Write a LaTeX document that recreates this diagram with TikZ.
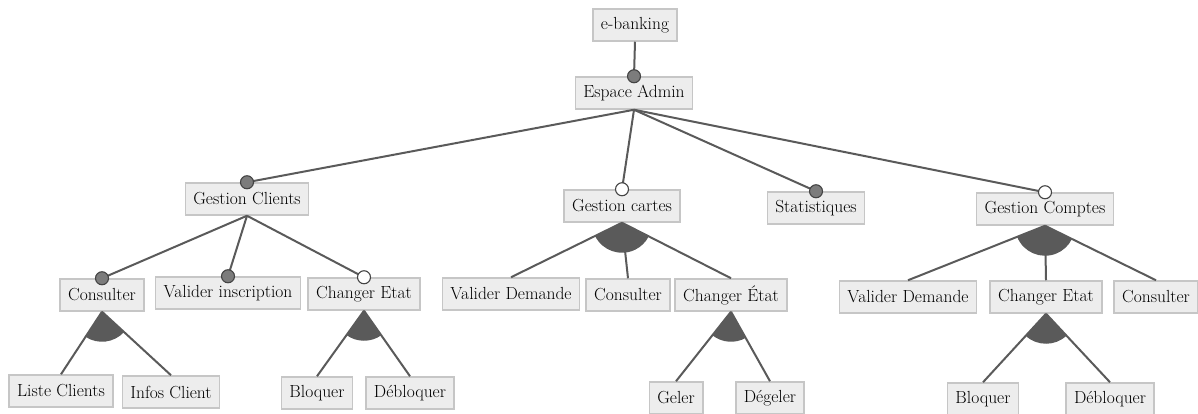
\documentclass[tikz,border=0pt]{standalone}
\usepackage{fontspec}
\usetikzlibrary{calc}
\definecolor{boxfill}{HTML}{EDEDED}
\definecolor{boxline}{HTML}{C6C6C6}
\definecolor{edgecol}{HTML}{5A5A5A}
\definecolor{dotfill}{HTML}{7C7C7C}
\definecolor{dotline}{HTML}{444444}
\tikzset{
  feature/.style={draw=boxline, fill=boxfill, line width=1.5pt,
    minimum height=32pt, inner xsep=8pt, inner ysep=0pt,
    font=\rmfamily\fontsize{17.5}{20}\selectfont},
  link/.style={draw=edgecol, line width=2pt},
  mandatory/.style={circle, draw=dotline, fill=dotfill, line width=1.1pt,
    minimum size=13pt, inner sep=0pt},
  optional/.style={circle, draw=dotline, fill=white, line width=1.1pt,
    minimum size=13pt, inner sep=0pt}
}
% filled sector of an or/alternative group, between the outer child links
\newcommand{\grpsector}[3]{%
  \fill[edgecol] let \p1=(#1.south), \p2=(#2.north), \p3=(#3.north),
    \n1={atan2(\y2-\y1,\x2-\x1)}, \n2={atan2(\y3-\y1,\x3-\x1)} in
    (\p1) -- ++(\n1:30pt) arc[start angle=\n1, end angle=\n2, radius=30pt] -- cycle;}
\begin{document}
\begin{tikzpicture}[x=1pt,y=-1pt]
\useasboundingbox (0,0) rectangle (1198,414);

% features
\node[feature] (eb)  at (635,25)  {e-banking};
\node[feature] (ea)  at (634,93)  {Espace Admin};
\node[feature] (gc)  at (247,199) {Gestion Clients};
\node[feature] (gca) at (622,206) {Gestion cartes};
\node[feature] (st)  at (816,208) {Statistiques};
\node[feature] (gco) at (1045,209) {Gestion Comptes};

\node[feature] (c1)  at (102,295) {Consulter};
\node[feature] (vi)  at (228,293) {Valider inscription};
\node[feature] (ce1) at (364,294) {Changer Etat};
\node[feature] (lc)  at (61,391)  {Liste Clients};
\node[feature] (ic)  at (171,392) {Infos Client};
\node[feature] (bl1) at (317,393) {Bloquer};
\node[feature] (db1) at (410,393) {Débloquer};

\node[feature] (vd2) at (511,294) {Valider Demande};
\node[feature] (co2) at (628,295) {Consulter};
\node[feature] (ce2) at (731,295) {Changer État};
\node[feature] (ge)  at (676,398) {Geler};
\node[feature] (dg)  at (770,398) {Dégeler};

\node[feature] (vd3) at (908,297) {Valider Demande};
\node[feature] (ce3) at (1046,297) {Changer Etat};
\node[feature] (co3) at (1156,297) {Consulter};
\node[feature] (bl3) at (983,399) {Bloquer};
\node[feature] (db3) at (1110,399) {Débloquer};

% group sectors
\grpsector{c1}{lc}{ic}
\grpsector{ce1}{bl1}{db1}
\grpsector{gca}{vd2}{ce2}
\grpsector{ce2}{ge}{dg}
\grpsector{gco}{vd3}{co3}
\grpsector{ce3}{bl3}{db3}

% links
\draw[link] (eb.south) -- (ea.north);
\foreach \c in {gc,gca,st,gco} \draw[link] (ea.south) -- (\c.north);
\foreach \c in {c1,vi,ce1} \draw[link] (gc.south) -- (\c.north);
\foreach \c in {lc,ic} \draw[link] (c1.south) -- (\c.north);
\foreach \c in {bl1,db1} \draw[link] (ce1.south) -- (\c.north);
\foreach \c in {vd2,co2,ce2} \draw[link] (gca.south) -- (\c.north);
\foreach \c in {ge,dg} \draw[link] (ce2.south) -- (\c.north);
\foreach \c in {vd3,ce3,co3} \draw[link] (gco.south) -- (\c.north);
\foreach \c in {bl3,db3} \draw[link] (ce3.south) -- (\c.north);

% mandatory / optional markers
\foreach \c in {ea,gc,st,c1,vi} \node[mandatory] at (\c.north) {};
\foreach \c in {gca,gco,ce1} \node[optional] at (\c.north) {};
\end{tikzpicture}
\end{document}
